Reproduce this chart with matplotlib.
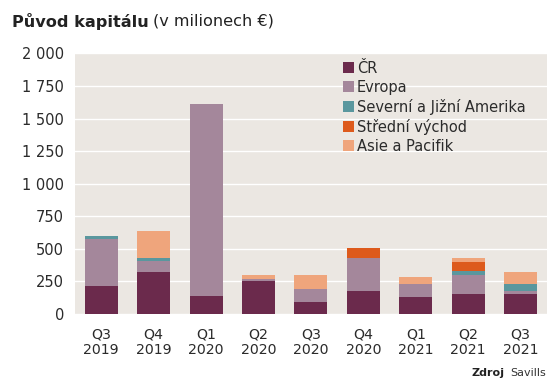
import matplotlib.pyplot as plt
import numpy as np

# data (v milionech EUR)
kvartaly = ['Q3\n2019', 'Q4\n2019', 'Q1\n2020', 'Q2\n2020', 'Q3\n2020',
            'Q4\n2020', 'Q1\n2021', 'Q2\n2021', 'Q3\n2021']
cr = [217, 324, 138, 255, 94, 179, 133, 153, 156]
evropa = [358, 82, 1471, 13, 98, 248, 97, 144, 20]
amerika = [23, 21, 0, 0, 0, 0, 0, 30, 56]
vychod = [0, 0, 0, 0, 0, 79, 0, 74, 0]
asie = [0, 209, 0, 31, 107, 0, 56, 26, 90]

serie = [('ČR', cr, '#6b2a4c'),
         ('Evropa', evropa, '#a4879b'),
         ('Severní a Jižní Amerika', amerika, '#5a979e'),
         ('Střední východ', vychod, '#dd5a1c'),
         ('Asie a Pacifik', asie, '#efa57c')]

plt.rcParams['font.family'] = ['DejaVu Sans']

fig = plt.figure(figsize=(5.58, 3.86), dpi=100)
ax = fig.add_axes([0.1344, 0.1865, 0.8456, 0.6752])
ax.set_facecolor('#ebe7e2')

x = np.arange(len(kvartaly))
spodek = np.zeros(len(kvartaly))
handles = []
for nazev, hodnoty, barva in serie:
    b = ax.bar(x, hodnoty, 0.63, bottom=spodek, color=barva, label=nazev, zorder=3)
    spodek += np.array(hodnoty)
    handles.append(b)

ax.set_xlim(-0.5, 8.5)
ax.set_ylim(0, 2000)
ax.set_yticks(np.arange(0, 2001, 250))
ax.set_yticklabels([f'{v:,}'.replace(',', ' ') for v in range(0, 2001, 250)])
ax.set_xticks(x)
ax.set_xticklabels(kvartaly, linespacing=1.1)
ax.tick_params(length=0, labelsize=10.5, colors='#2b2b2b', pad=8)
ax.tick_params(axis='x', pad=10, labelsize=10.2)
ax.grid(axis='y', color='white', linewidth=1.0, zorder=1)
for s in ax.spines.values():
    s.set_visible(False)

ax.legend(handles=handles, loc='upper left', bbox_to_anchor=(0.556, 0.995),
          frameon=False, fontsize=10.5, handlelength=0.75, handleheight=0.75,
          handletextpad=0.2, labelspacing=0.28, borderaxespad=0,
          labelcolor='#2b2b2b')

# titulek: tucna cast + normalni cast hned za ni
t1 = fig.text(0.022, 0.945, 'Původ kapitálu', fontsize=11.6, fontweight='bold',
              color='#222222', va='center')
fig.canvas.draw()
bb = t1.get_window_extent().transformed(fig.transFigure.inverted())
fig.text(bb.x1 + 0.008, 0.945, '(v milionech €)', fontsize=11.6, color='#222222',
         va='center')

fig.text(0.905, 0.033, 'Zdroj', fontsize=8, fontweight='bold', color='#222222',
         ha='right', va='center')
fig.text(0.915, 0.033, 'Savills', fontsize=8, color='#333333', va='center')

fig.savefig('out.png', dpi=100)
